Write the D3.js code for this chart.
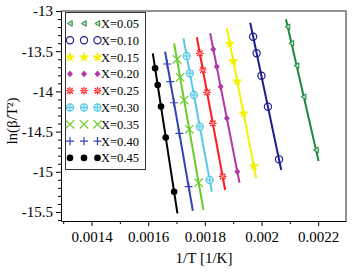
<!DOCTYPE html>
<html>
<head>
<meta charset="utf-8">
<script src="https://cdn.jsdelivr.net/npm/d3@7/dist/d3.min.js"></script>
<style>
  html, body { margin: 0; padding: 0; background: #fff; }
  svg { display: block; }
  text { font-family: "Liberation Serif", "Times New Roman", serif; }
</style>
</head>
<body>
<svg id="chart" width="355" height="272"></svg>
<script>
// ---------------- data ----------------
const seriesLabels = ["X=0.05", "X=0.10", "X=0.15", "X=0.20", "X=0.25", "X=0.30", "X=0.35", "X=0.40", "X=0.45"];

// marker positions (1/T in 1/K, ln(beta/T^2))
const pointsX = [
  [0.0020922, 0.0021057, 0.0021240, 0.0021491, 0.0021926],
  [0.0019703, 0.0019827, 0.0019997, 0.0020226, 0.0020618],
  [0.0018880, 0.0019004, 0.0019141, 0.0019364, 0.0019728],
  [0.0018297, 0.0018421, 0.0018558, 0.0018777, 0.0019145],
  [0.0017823, 0.0017933, 0.0018078, 0.0018279, 0.0018629],
  [0.0017360, 0.0017474, 0.0017615, 0.0017823, 0.0018170],
  [0.0017014, 0.0017127, 0.0017269, 0.0017449, 0.0017781],
  [0.0016671, 0.0016781, 0.0016912, 0.0017099, 0.0017428],
  [0.0016244, 0.0016336, 0.0016452, 0.0016618, 0.0016915]
];
const pointsY = [
  [-13.195, -13.402, -13.680, -14.066, -14.729],
  [-13.320, -13.526, -13.805, -14.190, -14.845],
  [-13.402, -13.622, -13.871, -14.272, -14.928],
  [-13.476, -13.693, -13.942, -14.335, -14.999],
  [-13.526, -13.734, -14.011, -14.397, -15.058],
  [-13.560, -13.775, -14.045, -14.439, -15.102],
  [-13.601, -13.825, -14.107, -14.471, -15.136],
  [-13.659, -13.879, -14.141, -14.521, -15.185],
  [-13.713, -13.920, -14.187, -14.573, -15.248]
];
// fitted line end points
const lineX = [
  [0.0020862, 0.0022014],
  [0.0019601, 0.0020696],
  [0.0018777, 0.0019813],
  [0.0018187, 0.0019223],
  [0.0017717, 0.0018717],
  [0.0017244, 0.0018247],
  [0.0016915, 0.0017951],
  [0.0016597, 0.0017576],
  [0.0016163, 0.0017032]
];
const lineY = [
  [-13.103, -14.866],
  [-13.146, -14.978],
  [-13.215, -15.081],
  [-13.277, -15.136],
  [-13.327, -15.226],
  [-13.340, -15.248],
  [-13.402, -15.475],
  [-13.506, -15.484],
  [-13.526, -15.516]
];

const xTicks = [0.0014, 0.0016, 0.0018, 0.002, 0.0022];
const xTickLabels = ["0.0014", "0.0016", "0.0018", "0.002", "0.0022"];
const xMinorTicks = [0.0013, 0.0015, 0.0017, 0.0019, 0.0021];
const yTicks = [-13, -13.5, -14, -14.5, -15, -15.5];
const yTickLabels = ["-13", "-13.5", "-14", "-14.5", "-15", "-15.5"];
const yMinorTicks = [-13.1, -13.2, -13.3, -13.4, -13.6, -13.7, -13.8, -13.9, -14.1, -14.2, -14.3, -14.4,
                     -14.6, -14.7, -14.8, -14.9, -15.1, -15.2, -15.3, -15.4, -15.6];
const xTitle = "1/T [1/K]";
const yTitle = "ln(β/T²)";

// ---------------- styles ----------------
const colors = ["#1b8a3e", "#1e1e8e", "#f2f200", "#b13aa6", "#ff1c1c", "#58c8e4", "#6acc2a", "#3343b8", "#000000"];
const markerTypes = ["triL", "circ", "star", "diam", "ast", "oplus", "cross", "plus", "dot"];

// ---------------- chart ----------------
const svg = d3.select("#chart");
const L = 61, R = 346, T = 11, B = 221;
const x = d3.scaleLinear().domain([0.0012922, 0.0022982]).range([L, R]);
const y = d3.scaleLinear().domain([-15.612, -13]).range([B, T]);

// frame (top/right)
svg.append("path")
  .attr("d", `M${L},${T}H${R}V${B}`)
  .attr("fill", "none").attr("stroke", "#707070").attr("stroke-width", 1.5);

// axes
svg.append("g").attr("transform", `translate(0,${B})`)
  .call(d3.axisBottom(x).tickValues(xTicks).tickFormat((d, i) => xTickLabels[i])
    .tickSizeInner(5).tickSizeOuter(0).tickPadding(5));
svg.append("g").attr("transform", `translate(0,${B})`)
  .call(d3.axisBottom(x).tickValues(xMinorTicks).tickFormat("").tickSizeInner(3).tickSizeOuter(0))
  .select(".domain").remove();
svg.append("g").attr("transform", `translate(${L},0)`)
  .call(d3.axisLeft(y).tickValues(yTicks).tickFormat((d, i) => yTickLabels[i])
    .tickSizeInner(5).tickSizeOuter(0).tickPadding(3));
svg.append("g").attr("transform", `translate(${L},0)`)
  .call(d3.axisLeft(y).tickValues(yMinorTicks).tickFormat("").tickSizeInner(3).tickSizeOuter(0))
  .select(".domain").remove();
svg.selectAll(".tick text").attr("font-size", 15).attr("fill", "#000")
  .style("font-family", "'Liberation Serif', serif");
svg.selectAll(".domain").attr("stroke", "#000");
svg.selectAll(".tick line").attr("stroke", "#000");

// titles
svg.append("text").attr("x", 204).attr("y", 263).attr("text-anchor", "middle")
  .attr("font-size", 15).text(xTitle);
svg.append("text").attr("transform", "translate(17,121) rotate(-90)").attr("text-anchor", "middle")
  .attr("font-size", 15).text(yTitle);

// marker drawer
function marker(g, type, color, cx, cy) {
  const s = g.append("g").attr("transform", `translate(${cx},${cy})`);
  switch (type) {
    case "triL":
      s.append("path").attr("d", "M-2.6,0L2.2,-2.8L2.2,2.8Z")
        .attr("fill", "#b8dcb8").attr("stroke", color).attr("stroke-width", 1);
      break;
    case "circ":
      s.append("circle").attr("r", 3.6).attr("fill", "none").attr("stroke", color).attr("stroke-width", 1.2);
      break;
    case "star":
      s.append("path").attr("d", d3.symbol(d3.symbolStar, 32)()).attr("fill", color);
      s.append("path").attr("d", "M-4.5,0H4.5M0,-4.5V4.5").attr("stroke", color).attr("stroke-width", 0.9);
      break;
    case "diam":
      s.append("path").attr("d", "M0,-3.4L3,0L0,3.4L-3,0Z").attr("fill", color);
      break;
    case "ast":
      s.append("path").attr("d", "M-3.8,0H3.8M0,-3.8V3.8M-2.8,-2.8L2.8,2.8M-2.8,2.8L2.8,-2.8")
        .attr("stroke", color).attr("stroke-width", 1.2);
      s.append("circle").attr("r", 1.6).attr("fill", "#ff9090");
      break;
    case "oplus":
      s.append("circle").attr("r", 3.6).attr("fill", "#cdeef8").attr("stroke", color).attr("stroke-width", 1.1);
      s.append("path").attr("d", "M-3.6,0H3.6M0,-3.6V3.6").attr("stroke", color).attr("stroke-width", 1);
      break;
    case "cross":
      s.append("path").attr("d", "M-4.2,-4.2L4.2,4.2M-4.2,4.2L4.2,-4.2")
        .attr("stroke", color).attr("stroke-width", 1.2);
      break;
    case "plus":
      s.append("path").attr("d", "M-4,0H4M0,-4.2V4.2").attr("stroke", color).attr("stroke-width", 1.2);
      break;
    case "dot":
      s.append("circle").attr("r", 3.3).attr("fill", color);
      break;
  }
}

// series
const plot = svg.append("g");
seriesLabels.forEach((lab, i) => {
  const pts = lineX[i].map((v, j) => [v, lineY[i][j]]);
  plot.append("path")
    .attr("d", d3.line().x(d => x(d[0])).y(d => y(d[1]))(pts))
    .attr("stroke", colors[i]).attr("stroke-width", 2).attr("fill", "none");
  pointsX[i].forEach((px, j) => marker(plot, markerTypes[i], colors[i], x(px), y(pointsY[i][j])));
});

// legend
const lg = svg.append("g");
lg.append("rect").attr("x", 65.5).attr("y", 12.5).attr("width", 80).attr("height", 157)
  .attr("fill", "#fff").attr("stroke", "#333").attr("stroke-width", 1);
seriesLabels.forEach((lab, i) => {
  const cy = 23.5 + i * 16.8;
  [70, 84, 97.5].forEach(cx => marker(lg, markerTypes[i], colors[i], cx, cy));
  lg.append("text").attr("x", 101).attr("y", cy + 4.5).attr("font-size", 12.5)
    .attr("fill", "#000").text(lab);
});
</script>
</body>
</html>
